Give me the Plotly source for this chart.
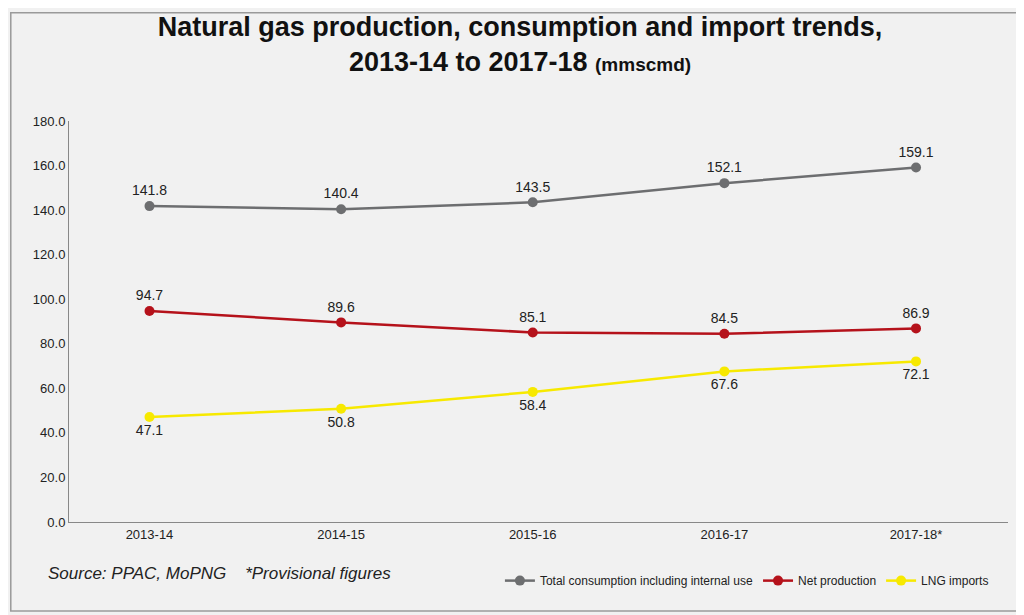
import plotly.graph_objects as go

years = ["2013-14", "2014-15", "2015-16", "2016-17", "2017-18*"]
total = [141.8, 140.4, 143.5, 152.1, 159.1]
netprod = [94.7, 89.6, 85.1, 84.5, 86.9]
lng = [47.1, 50.8, 58.4, 67.6, 72.1]
total_lbl = ["141.8", "140.4", "143.5", "152.1", "159.1"]
net_lbl = ["94.7", "89.6", "85.1", "84.5", "86.9"]
lng_lbl = ["47.1", "50.8", "58.4", "67.6", "72.1"]

fig = go.Figure()
def add(name, y, lbl, color, pos):
    fig.add_trace(go.Scatter(x=list(range(5)), y=y, name=name, mode="lines+markers+text",
        line=dict(color=color, width=2.5), marker=dict(size=10, color=color),
        text=lbl, textposition=pos, textfont=dict(size=14, color="#222"), cliponaxis=False))
add("Total consumption including internal use", total, total_lbl, "#6d6e70", "top center")
add("Net production", netprod, net_lbl, "#b5121b", "top center")
add("LNG imports", lng, lng_lbl, "#f7e900", "bottom center")

fig.update_layout(
    width=1024, height=615, paper_bgcolor="#f1f1f1", plot_bgcolor="#f1f1f1",
    margin=dict(l=61, r=24, t=113, b=101),
    font=dict(family="Liberation Sans Narrow, Arial Narrow, sans-serif", color="#222", size=13),
    title=dict(text="<b>Natural gas production, consumption and import trends,<br>2013-14 to 2017-18 <span style='font-size:19px'>(mmscmd)</span></b>",
               x=0.5, xanchor="center", y=0.955, yanchor="top",
               font=dict(size=27, family="Liberation Sans Narrow, Arial Narrow, sans-serif", color="#111")),
    xaxis=dict(tickmode="array", tickvals=list(range(5)), ticktext=years, range=[-0.42, 4.48],
               showgrid=False, showline=True, linecolor="#888", ticks="", zeroline=False,
               tickfont=dict(size=13)),
    yaxis=dict(range=[0, 180], dtick=20, tickformat=".1f", showgrid=False, showline=True,
               linecolor="#888", ticks="", zeroline=False, tickfont=dict(size=13)),
    legend=dict(orientation="h", x=0.985, xanchor="right", y=-0.11, yanchor="top",
                bgcolor="rgba(0,0,0,0)", font=dict(size=12)),
    showlegend=True,
)
fig.add_annotation(text="<i>Source: PPAC, MoPNG    *Provisional figures</i>", xref="paper", yref="paper",
                   x=-0.025, y=-0.1, xanchor="left", yanchor="top", showarrow=False,
                   font=dict(size=17, color="#222"))
fig.add_shape(type="rect", xref="paper", yref="paper", x0=-0.062, x1=1.022, y0=-0.222, y1=1.27,
              line=dict(color="#9a9a9a", width=1.5))
fig.write_html("out.html")
